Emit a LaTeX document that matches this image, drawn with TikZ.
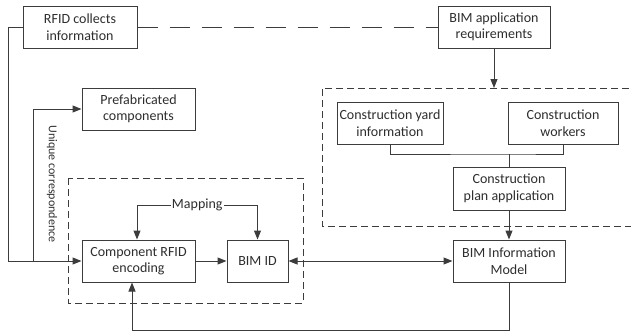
\documentclass[tikz,border=0pt]{standalone}
\usepackage{fontspec}
\setmainfont{Carlito}
\usetikzlibrary{arrows.meta}
\definecolor{ln}{HTML}{3C3C3C}
\definecolor{tx}{HTML}{2E2E2E}
\tikzset{
  box/.style={draw=ln,line width=1pt,fill=white,text=tx,align=center,inner sep=1pt,
    font=\fontsize{14}{16.5}\selectfont},
  conn/.style={draw=ln,line width=1pt},
  arr/.style={conn,-{Triangle[length=9pt,width=7pt]}},
  darr/.style={conn,{Triangle[length=9pt,width=7pt]}-{Triangle[length=9pt,width=7pt]}},
  dbox/.style={draw=ln,line width=1pt,dash pattern=on 7pt off 4pt},
  lbl/.style={text=tx,font=\fontsize{12}{14}\selectfont,inner sep=1pt}
}
\begin{document}
\begin{tikzpicture}[x=1pt,y=-1pt]
\useasboundingbox (0,0) rectangle (631,333);
% dashed groups
\draw[dbox] (68,178) rectangle (303,303);
\draw[dbox] (640,88) -- (322,88) -- (322,226) -- (640,226);
% nodes
\node[box,minimum width=114pt,minimum height=42pt] (rfid) at (80,27) {RFID collects\\information};
\node[box,minimum width=112pt,minimum height=42pt] (bimreq) at (494,27) {BIM application\\requirements};
\node[box,minimum width=113pt,minimum height=42pt] (prefab) at (138.5,109) {Prefabricated\\components};
\node[box,minimum width=106pt,minimum height=42pt] (yard) at (390,123) {Construction yard\\information};
\node[box,minimum width=110pt,minimum height=42pt] (workers) at (563,123) {Construction\\workers};
\node[box,minimum width=112pt,minimum height=43pt] (plan) at (509,188.5) {Construction\\plan application};
\node[box,minimum width=112pt,minimum height=42pt] (model) at (509,261) {BIM Information\\Model};
\node[box,minimum width=61pt,minimum height=42pt] (bimid) at (257.5,261) {BIM ID};
\node[box,minimum width=113pt,minimum height=42pt] (comp) at (138.5,261) {Component RFID\\encoding};
% connectors
\draw[conn,dash pattern=on 20pt off 12pt] (rfid.east) -- (bimreq.west);
\draw[arr] (rfid.west) -- (8,27) |- (comp.west);
\coordinate (uc) at (33,261);
\draw[arr] (uc) |- (prefab.west);
\node[lbl,rotate=-90] (ulbl) at (52,184) {Unique correspondence};
\coordinate (rq) at (494,88);
\draw[arr] (bimreq.south) -- (rq);
\coordinate (j) at (509,154);
\draw[conn] (yard.south) |- (j) -| (workers.south);
\draw[conn] (j) -- (plan.north);
\draw[arr] (plan.south) -- (model.north);
\draw[arr] (comp.east) -- (bimid.west);
\draw[darr] (bimid.east) -- (model.west);
\coordinate (m1) at (137,205);
\coordinate (m2) at (257.5,205);
\draw[arr] (m1) -- (comp.north -| m1);
\draw[arr] (m2) -- (bimid.north);
\draw[conn] (m1) -- (m2) node[lbl,midway,fill=white,font=\fontsize{14}{16}\selectfont] (map) {Mapping};
\coordinate (b1) at (509,330);
\coordinate (b2) at (132,330);
\draw[conn] (model.south) -- (b1) -- (b2);
\draw[arr] (b2) -- (comp.south -| b2);
\end{tikzpicture}
\end{document}
